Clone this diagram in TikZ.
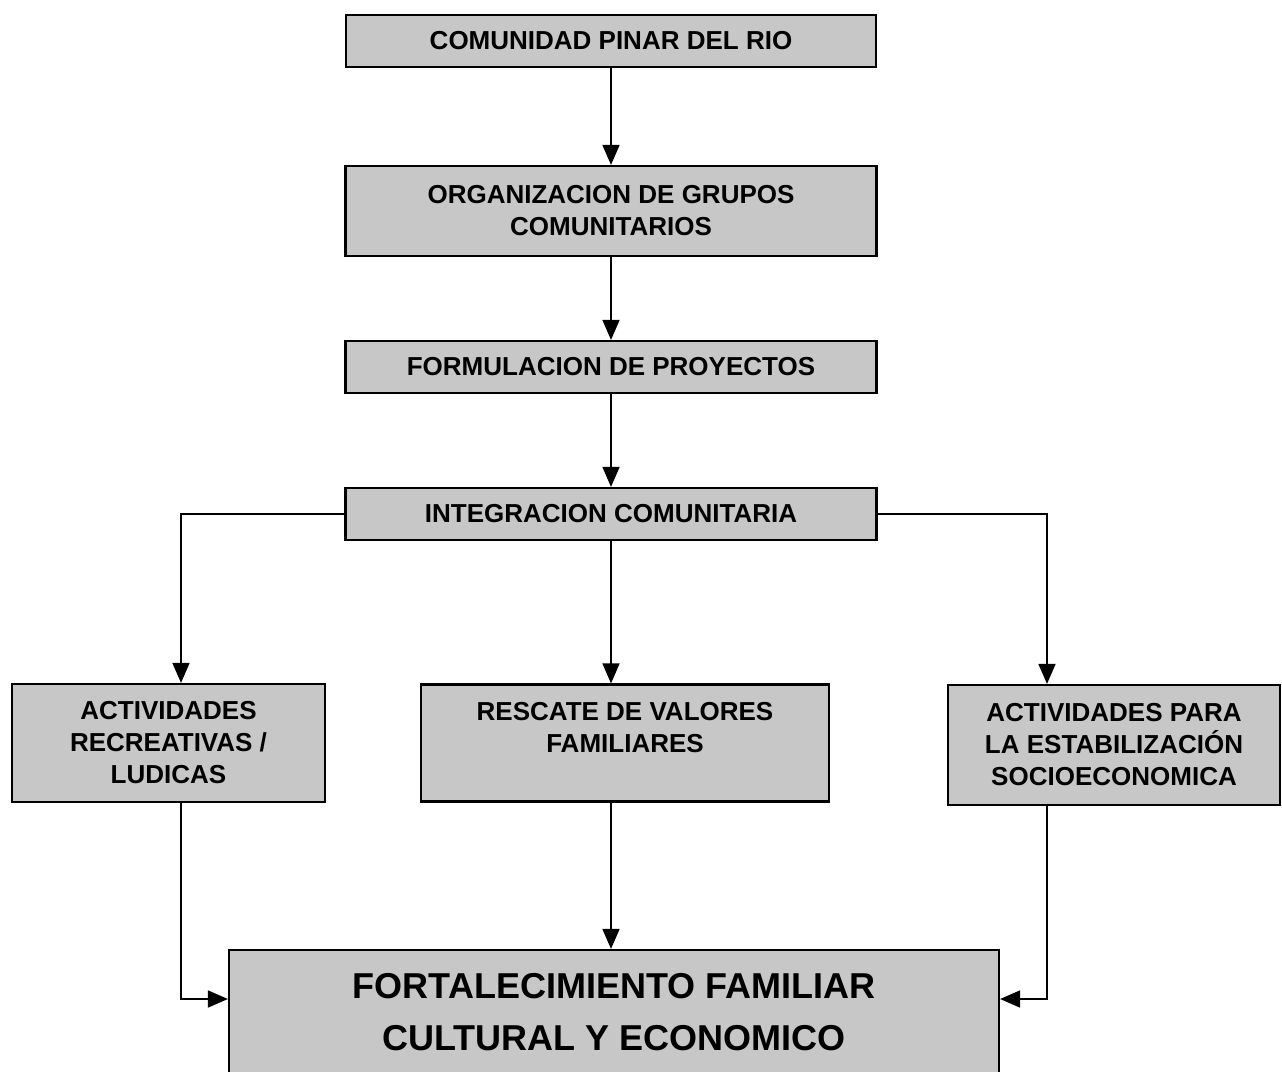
\documentclass[tikz,border=0pt]{standalone}
\usepackage{fontspec}
\setmainfont{Liberation Sans}
\usetikzlibrary{arrows.meta}
\begin{document}
\begin{tikzpicture}[x=1pt,y=-1pt,
  box/.style={draw=black, line width=2.2pt, fill=black!22, align=center,
    font=\fontsize{26}{32}\selectfont\bfseries, inner sep=0pt},
  bigbox/.style={box, font=\fontsize{36}{52}\selectfont\bfseries},
  conn/.style={line width=1.6pt, -{Triangle[length=20pt,width=17pt]}}]
\useasboundingbox (0,0) rectangle (1282,1071);
\fill[white] (0,0) rectangle (1282,1071);
\clip (0,0) rectangle (1282,1071);

\node[box, minimum width=530pt, minimum height=52pt] (b1) at (611,41) {COMUNIDAD PINAR DEL RIO};
\node[box, minimum width=531pt, minimum height=90pt] (b2) at (611,211) {ORGANIZACION DE GRUPOS\\COMUNITARIOS};
\node[box, minimum width=531pt, minimum height=52pt] (b3) at (611,367) {FORMULACION DE PROYECTOS};
\node[box, minimum width=531pt, minimum height=52pt] (b4) at (611,514) {INTEGRACION COMUNITARIA};
\node[box, minimum width=313pt, minimum height=118pt] (b5) at (168.5,743) {ACTIVIDADES\\RECREATIVAS /\\LUDICAS};
\node[box, minimum width=408pt, minimum height=117pt] (b6) at (625,743) {RESCATE DE VALORES\\FAMILIARES\\\mbox{}};
\node[box, minimum width=332pt, minimum height=120pt] (b7) at (1114,745) {ACTIVIDADES PARA\\LA ESTABILIZACIÓN\\SOCIOECONOMICA};
\node[bigbox, minimum width=770pt, minimum height=124pt] (b8) at (614,1012) {FORTALECIMIENTO FAMILIAR\\CULTURAL Y ECONOMICO};

\draw[conn] (b1.south) -- (b2.north);
\draw[conn] (b2.south) -- (b3.north);
\draw[conn] (b3.south) -- (b4.north);
\draw[conn] (b4.west) -| ([xshift=12.5pt]b5.north);
\draw[conn] (b4.south) -- (b4.south |- b6.north);
\draw[conn] (b4.east) -| ([xshift=-67pt]b7.north);
\draw[conn] ([xshift=12.5pt]b5.south) |- ([yshift=13pt]b8.west);
\draw[conn] (b4.south |- b6.south) -- (b4.south |- b8.north);
\draw[conn] ([xshift=-67pt]b7.south) |- ([yshift=13pt]b8.east);
\end{tikzpicture}
\end{document}
